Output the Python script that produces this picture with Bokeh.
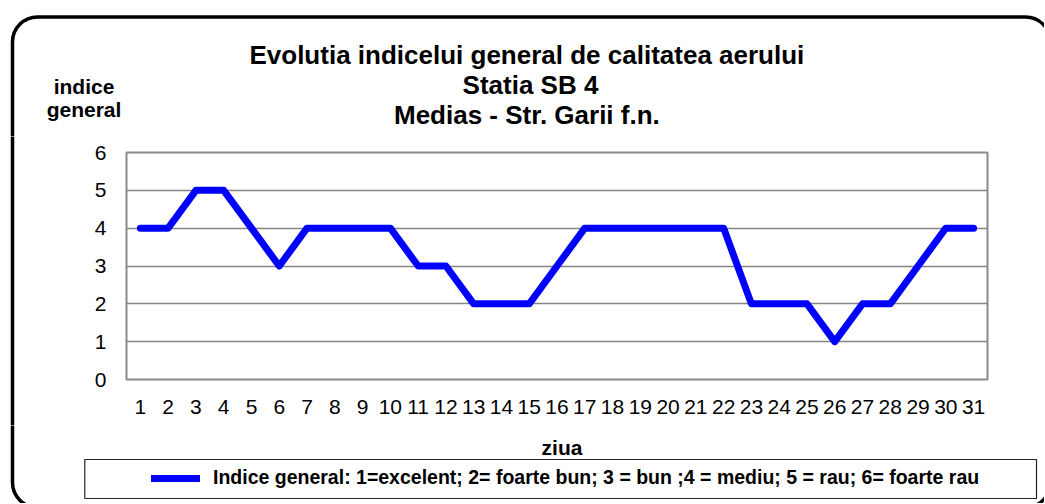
from bokeh.plotting import figure
from bokeh.layouts import column, row
from bokeh.models import (Label, BoxAnnotation, Legend, LegendItem, FactorRange,
                          Range1d, ColumnDataSource, FixedTicker)
from bokeh.embed import file_html
from bokeh.resources import INLINE

# ---------------- data ----------------
days = [str(i) for i in range(1, 32)]
indice = [4, 4, 5, 5, 4, 3, 4, 4, 4, 4, 3, 3, 2, 2, 2, 3, 4, 4, 4, 4, 4, 4,
          2, 2, 2, 1, 2, 2, 3, 4, 4]
y_ticks = [0, 1, 2, 3, 4, 5, 6]
title_lines = ["Evolutia  indicelui general de calitatea aerului",
               "Statia SB 4",
               "Medias - Str. Garii  f.n."]
y_label_lines = ["indice", "general"]
x_label = "ziua"
legend_label = ("Indice general: 1=excelent; 2= foarte bun; 3 = bun ;4 = mediu; "
                "5 = rau; 6= foarte rau")

FONT = "Liberation Sans"
LINE_COLOR = "#0000FF"
GRID_COLOR = "#858585"

# layout geometry (page pixels)
W = 1044
H_HEAD, H_MID, H_FOOT = 136, 289, 78
STRIP_W = 40
OUTER = dict(left=12, right=1050, top=16.5, bottom=507)  # rounded frame, page coords


def blank(width, height):
    f = figure(width=width, height=height, x_range=Range1d(0, width),
               y_range=Range1d(0, height), output_backend="svg",
               toolbar_location=None, x_axis_type=None, y_axis_type=None,
               min_border=0)
    f.frame_align = False
    f.outline_line_color = None
    f.grid.visible = False
    f.background_fill_color = "white"
    f.border_fill_color = "white"
    return f


def outer_frame(f, ox, oy):
    f.add_layout(BoxAnnotation(left=OUTER["left"] - ox, right=OUTER["right"] - ox,
                               top=OUTER["top"] - oy, bottom=OUTER["bottom"] - oy,
                               left_units="canvas", right_units="canvas",
                               top_units="canvas", bottom_units="canvas",
                               border_radius=25, fill_alpha=0,
                               line_color="black", line_alpha=1, line_width=3.5))


def text(f, x, y, t, size, align="center"):
    f.add_layout(Label(x=x, y=y, x_units="canvas", y_units="canvas", text=t,
                       text_align=align, text_baseline="middle",
                       text_font=FONT, text_font_size=size,
                       text_font_style="bold", text_color="black"))


# ---------------- header ----------------
head = blank(W, H_HEAD)
outer_frame(head, 0, 0)
for i, t in enumerate(title_lines):
    text(head, 530, 54 + 30 * i, t, "26px")
for i, t in enumerate(y_label_lines):
    text(head, 83.5, 86 + 23 * i, t, "21px")

# ---------------- left strip ----------------
strip = blank(STRIP_W, H_MID)
outer_frame(strip, 0, H_HEAD)

# ---------------- main chart ----------------
source = ColumnDataSource(data=dict(day=days, val=indice))
p = figure(width=W - STRIP_W, height=H_MID,
           x_range=FactorRange(factors=days, range_padding=0),
           y_range=Range1d(0, 6),
           output_backend="svg", toolbar_location=None,
           min_border_left=86, min_border_right=57,
           min_border_top=16, min_border_bottom=46)
p.frame_align = False
p.background_fill_color = "white"
p.border_fill_color = "white"
p.outline_line_color = "#8a8a8a"
p.outline_line_width = 2

r = p.line(x="day", y="val", source=source, line_color=LINE_COLOR,
           line_width=7, line_join="round", line_cap="round")

for ax in (p.xaxis, p.yaxis):
    ax.axis_line_color = None
    ax.major_tick_line_color = None
    ax.minor_tick_line_color = None
    ax.major_label_text_font = FONT
    ax.major_label_text_font_size = "21px"
    ax.major_label_text_color = "black"
p.yaxis.ticker = FixedTicker(ticks=y_ticks)
p.yaxis.major_label_standoff = 14
p.xaxis.major_label_standoff = 14
p.xgrid.grid_line_color = None
p.ygrid.ticker = FixedTicker(ticks=y_ticks)
p.ygrid.grid_line_color = GRID_COLOR
p.ygrid.grid_line_width = 1.3

# ---------------- footer ----------------
foot = blank(W, H_FOOT)
outer_frame(foot, 0, H_HEAD + H_MID)
text(foot, 561.5, 21.5, x_label, "21px")
foot.add_layout(BoxAnnotation(left=84.3, right=1036, top=34, bottom=73,
                              left_units="canvas", right_units="canvas",
                              top_units="canvas", bottom_units="canvas",
                              fill_alpha=0, line_color="#222222", line_alpha=1,
                              line_width=1.2))
# legend key: a line renderer with the same style but no visible points
proxy = foot.line(x=[0], y=[float("nan")], line_color=LINE_COLOR, line_width=7,
                  line_cap="round")
legend = Legend(items=[LegendItem(label=legend_label, renderers=[proxy])],
                location=(151, 14), padding=0, margin=0, spacing=0,
                glyph_width=49, glyph_height=20, label_height=20,
                label_standoff=13,
                label_text_font=FONT, label_text_font_size="19.5px",
                label_text_font_style="bold", label_text_color="black",
                border_line_color=None, background_fill_alpha=0)
foot.add_layout(legend)

layout = column(head, row(strip, p), foot)
open("out.html", "w").write(file_html(layout, INLINE))
